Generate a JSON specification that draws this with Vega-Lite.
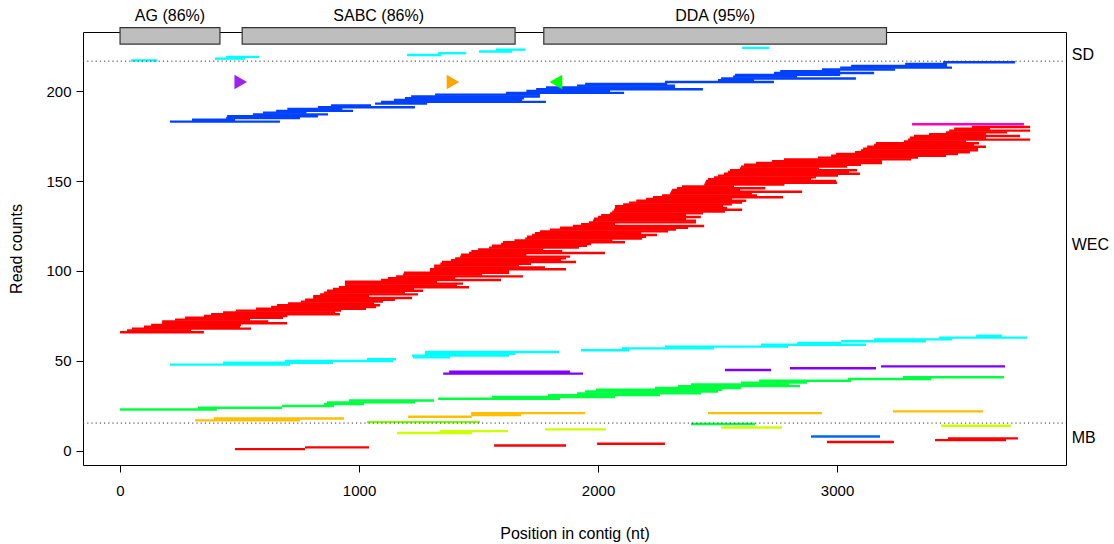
{
  "width": 983,
  "height": 433,
  "autosize": "none",
  "padding": {"left": 83, "top": 32, "right": 48, "bottom": 79},
  "config": {
    "view": {"stroke": "black", "strokeWidth": 1},
    "font": "Liberation Sans",
    "axis": {"grid": false, "domain": false, "tickColor": "black", "tickSize": 7, "labelColor": "black", "labelFontSize": 15, "titleColor": "black", "titleFontSize": 16, "titleFontWeight": "normal"}
  },
  "datasets": {
    "reads": [
      {"s":0,"e":351,"y":66,"c":"r"},{"s":29,"e":297,"y":67,"c":"r"},{"s":50,"e":548,"y":68,"c":"r"},{"s":100,"e":502,"y":69,"c":"r"},{"s":130,"e":506,"y":70,"c":"r"},{"s":176,"e":699,"y":71,"c":"r"},{"s":176,"e":620,"y":72,"c":"r"},{"s":230,"e":544,"y":73,"c":"r"},{"s":272,"e":682,"y":74,"c":"r"},{"s":351,"e":700,"y":75,"c":"r"},
      {"s":381,"e":920,"y":76,"c":"r"},{"s":431,"e":900,"y":77,"c":"r"},{"s":485,"e":925,"y":78,"c":"r"},{"s":569,"e":1029,"y":79,"c":"r"},{"s":632,"e":1071,"y":80,"c":"r"},{"s":657,"e":1088,"y":81,"c":"r"},{"s":703,"e":1063,"y":82,"c":"r"},{"s":757,"e":1100,"y":83,"c":"r"},{"s":774,"e":1150,"y":84,"c":"r"},{"s":808,"e":1222,"y":85,"c":"r"},
      {"s":808,"e":1042,"y":86,"c":"r"},{"s":837,"e":1247,"y":87,"c":"r"},{"s":853,"e":1192,"y":88,"c":"r"},{"s":866,"e":1268,"y":89,"c":"r"},{"s":891,"e":1230,"y":90,"c":"r"},{"s":916,"e":1460,"y":91,"c":"r"},{"s":941,"e":1410,"y":92,"c":"r"},{"s":941,"e":1435,"y":93,"c":"r"},{"s":941,"e":1326,"y":94,"c":"r"},{"s":1092,"e":1594,"y":95,"c":"r"},
      {"s":1121,"e":1402,"y":96,"c":"r"},{"s":1155,"e":1686,"y":97,"c":"r"},{"s":1184,"e":1515,"y":98,"c":"r"},{"s":1188,"e":1628,"y":99,"c":"r"},{"s":1297,"e":1628,"y":100,"c":"r"},{"s":1297,"e":1866,"y":101,"c":"r"},{"s":1314,"e":1778,"y":102,"c":"r"},{"s":1314,"e":1669,"y":103,"c":"r"},{"s":1340,"e":1720,"y":104,"c":"r"},{"s":1347,"e":1908,"y":105,"c":"r"},
      {"s":1385,"e":1845,"y":106,"c":"r"},{"s":1402,"e":1866,"y":107,"c":"r"},{"s":1423,"e":1883,"y":108,"c":"r"},{"s":1427,"e":1700,"y":109,"c":"r"},{"s":1460,"e":2029,"y":110,"c":"r"},{"s":1470,"e":1850,"y":111,"c":"r"},{"s":1498,"e":1770,"y":112,"c":"r"},{"s":1544,"e":1920,"y":113,"c":"r"},{"s":1556,"e":1954,"y":114,"c":"r"},{"s":1594,"e":1971,"y":115,"c":"r"},
      {"s":1602,"e":2113,"y":116,"c":"r"},{"s":1650,"e":2060,"y":117,"c":"r"},{"s":1695,"e":2184,"y":118,"c":"r"},{"s":1703,"e":2201,"y":119,"c":"r"},{"s":1724,"e":2247,"y":120,"c":"r"},{"s":1736,"e":2180,"y":121,"c":"r"},{"s":1757,"e":2293,"y":122,"c":"r"},{"s":1799,"e":2326,"y":123,"c":"r"},{"s":1841,"e":2377,"y":124,"c":"r"},{"s":1895,"e":2444,"y":125,"c":"r"},
      {"s":1929,"e":2071,"y":126,"c":"r"},{"s":1962,"e":2410,"y":127,"c":"r"},{"s":1979,"e":2410,"y":128,"c":"r"},{"s":1983,"e":2368,"y":129,"c":"r"},{"s":2000,"e":2430,"y":130,"c":"r"},{"s":2013,"e":2368,"y":131,"c":"r"},{"s":2050,"e":2439,"y":132,"c":"r"},{"s":2059,"e":2531,"y":133,"c":"r"},{"s":2067,"e":2603,"y":134,"c":"r"},{"s":2071,"e":2540,"y":135,"c":"r"},
      {"s":2071,"e":2523,"y":136,"c":"r"},{"s":2105,"e":2560,"y":137,"c":"r"},{"s":2130,"e":2603,"y":138,"c":"r"},{"s":2160,"e":2620,"y":139,"c":"r"},{"s":2201,"e":2560,"y":140,"c":"r"},{"s":2230,"e":2774,"y":141,"c":"r"},{"s":2268,"e":2665,"y":142,"c":"r"},{"s":2301,"e":2644,"y":143,"c":"r"},{"s":2305,"e":2854,"y":144,"c":"r"},{"s":2310,"e":2594,"y":145,"c":"r"},
      {"s":2330,"e":2700,"y":146,"c":"r"},{"s":2351,"e":2569,"y":147,"c":"r"},{"s":2444,"e":2780,"y":148,"c":"r"},{"s":2448,"e":3000,"y":149,"c":"r"},{"s":2452,"e":2996,"y":150,"c":"r"},{"s":2460,"e":2891,"y":151,"c":"r"},{"s":2485,"e":2912,"y":152,"c":"r"},{"s":2502,"e":3004,"y":153,"c":"r"},{"s":2527,"e":3096,"y":154,"c":"r"},{"s":2544,"e":3050,"y":155,"c":"r"},
      {"s":2552,"e":3084,"y":156,"c":"r"},{"s":2594,"e":2925,"y":157,"c":"r"},{"s":2598,"e":3042,"y":158,"c":"r"},{"s":2611,"e":3100,"y":159,"c":"r"},{"s":2661,"e":3188,"y":160,"c":"r"},{"s":2728,"e":3188,"y":161,"c":"r"},{"s":2778,"e":3310,"y":162,"c":"r"},{"s":2920,"e":3339,"y":163,"c":"r"},{"s":2975,"e":3456,"y":164,"c":"r"},{"s":2996,"e":3506,"y":165,"c":"r"},
      {"s":3075,"e":3556,"y":166,"c":"r"},{"s":3100,"e":3590,"y":167,"c":"r"},{"s":3109,"e":3590,"y":168,"c":"r"},{"s":3126,"e":3623,"y":169,"c":"r"},{"s":3155,"e":3573,"y":170,"c":"r"},{"s":3163,"e":3594,"y":171,"c":"r"},{"s":3280,"e":3540,"y":172,"c":"r"},{"s":3297,"e":3808,"y":173,"c":"r"},{"s":3305,"e":3623,"y":174,"c":"r"},{"s":3322,"e":3766,"y":175,"c":"r"},
      {"s":3385,"e":3623,"y":176,"c":"r"},{"s":3456,"e":3711,"y":177,"c":"r"},{"s":3469,"e":3808,"y":178,"c":"r"},{"s":3490,"e":3640,"y":179,"c":"r"},{"s":3565,"e":3808,"y":180,"c":"r"},
      {"s":3314,"e":3782,"y":181.5,"c":"m"},
      {"s":209,"e":669,"y":183,"c":"b"},{"s":301,"e":481,"y":184,"c":"b"},{"s":444,"e":753,"y":185,"c":"b"},{"s":448,"e":828,"y":186,"c":"b"},{"s":556,"e":870,"y":187,"c":"b"},{"s":598,"e":780,"y":188,"c":"b"},{"s":653,"e":975,"y":189,"c":"b"},{"s":700,"e":930,"y":190,"c":"b"},{"s":828,"e":1234,"y":191,"c":"b"},{"s":883,"e":1050,"y":192,"c":"b"},
      {"s":1067,"e":1285,"y":193,"c":"b"},{"s":1092,"e":1782,"y":194,"c":"b"},{"s":1146,"e":1682,"y":195,"c":"b"},{"s":1192,"e":1690,"y":196,"c":"b"},{"s":1218,"e":1757,"y":197,"c":"b"},{"s":1318,"e":1757,"y":198,"c":"b"},{"s":1615,"e":2109,"y":199,"c":"b"},{"s":1700,"e":2050,"y":200,"c":"b"},{"s":1741,"e":2439,"y":201,"c":"b"},{"s":1782,"e":2322,"y":202,"c":"b"},
      {"s":1912,"e":2322,"y":203,"c":"b"},{"s":1946,"e":2289,"y":204,"c":"b"},{"s":2280,"e":2736,"y":205,"c":"b"},{"s":2502,"e":2653,"y":206,"c":"b"},{"s":2515,"e":3079,"y":207,"c":"b"},{"s":2565,"e":2833,"y":208,"c":"b"},{"s":2573,"e":3013,"y":209,"c":"b"},{"s":2736,"e":3155,"y":210,"c":"b"},{"s":2762,"e":3013,"y":211,"c":"b"},{"s":2937,"e":3243,"y":212,"c":"b"},
      {"s":3013,"e":3481,"y":213,"c":"b"},{"s":3059,"e":3460,"y":214,"c":"b"},{"s":3285,"e":3460,"y":215,"c":"b"},{"s":3444,"e":3745,"y":216,"c":"b"},
      {"s":46,"e":155,"y":217,"c":"cy"},{"s":397,"e":523,"y":218,"c":"cy"},{"s":444,"e":582,"y":219,"c":"cy"},{"s":1201,"e":1343,"y":220,"c":"cy"},{"s":1331,"e":1448,"y":221,"c":"cy"},{"s":1502,"e":1640,"y":222,"c":"cy"},{"s":1573,"e":1695,"y":223,"c":"cy"},{"s":2603,"e":2715,"y":224,"c":"cy"},
      {"s":209,"e":711,"y":48,"c":"cy"},{"s":431,"e":891,"y":49,"c":"cy"},{"s":690,"e":1142,"y":50,"c":"cy"},{"s":1033,"e":1155,"y":51,"c":"cy"},{"s":1226,"e":1381,"y":52,"c":"cy"},{"s":1222,"e":1628,"y":53,"c":"cy"},{"s":1276,"e":1653,"y":54,"c":"cy"},{"s":1276,"e":1837,"y":55,"c":"cy"},{"s":1929,"e":2130,"y":56,"c":"cy"},{"s":2100,"e":2485,"y":57,"c":"cy"},
      {"s":2280,"e":2795,"y":58,"c":"cy"},{"s":2682,"e":3121,"y":59,"c":"cy"},{"s":2833,"e":3017,"y":60,"c":"cy"},{"s":3017,"e":3372,"y":61,"c":"cy"},{"s":3155,"e":3481,"y":62,"c":"cy"},{"s":3427,"e":3795,"y":63,"c":"cy"},{"s":3582,"e":3690,"y":64,"c":"cy"},
      {"s":1352,"e":1937,"y":43,"c":"p"},{"s":1377,"e":1883,"y":44,"c":"p"},{"s":2531,"e":2724,"y":45,"c":"p"},{"s":2803,"e":3163,"y":46,"c":"p"},{"s":3184,"e":3703,"y":47,"c":"p"},
      {"s":0,"e":405,"y":23,"c":"g"},{"s":326,"e":678,"y":24,"c":"g"},{"s":678,"e":895,"y":25,"c":"g"},{"s":853,"e":1021,"y":26,"c":"g"},{"s":866,"e":1234,"y":27,"c":"g"},{"s":958,"e":1314,"y":28,"c":"g"},{"s":1331,"e":1841,"y":29,"c":"g"},{"s":1556,"e":2071,"y":30,"c":"g"},{"s":1791,"e":2259,"y":31,"c":"g"},{"s":1912,"e":2431,"y":32,"c":"g"},
      {"s":1946,"e":2502,"y":33,"c":"g"},{"s":1992,"e":2520,"y":34,"c":"g"},{"s":2238,"e":2598,"y":35,"c":"g"},{"s":2335,"e":2845,"y":36,"c":"g"},{"s":2389,"e":2800,"y":37,"c":"g"},{"s":2598,"e":2874,"y":38,"c":"g"},{"s":2674,"e":3059,"y":39,"c":"g"},{"s":3046,"e":3393,"y":40,"c":"g"},{"s":3276,"e":3699,"y":41,"c":"g"},
      {"s":2389,"e":2657,"y":15,"c":"g"},
      {"s":1033,"e":1506,"y":16,"c":"ch"},
      {"s":314,"e":753,"y":17,"c":"o"},{"s":393,"e":937,"y":18,"c":"o"},{"s":1205,"e":1472,"y":19,"c":"o"},{"s":1469,"e":1678,"y":20,"c":"o"},{"s":1469,"e":1946,"y":21,"c":"o"},{"s":2460,"e":2937,"y":21,"c":"o"},{"s":3234,"e":3611,"y":22,"c":"o"},
      {"s":1159,"e":1473,"y":10,"c":"l"},{"s":1339,"e":1623,"y":11,"c":"l"},{"s":1778,"e":2033,"y":12,"c":"l"},{"s":2515,"e":2770,"y":13,"c":"l"},{"s":3435,"e":3728,"y":14,"c":"l"},
      {"s":481,"e":774,"y":1,"c":"r"},{"s":774,"e":1042,"y":2,"c":"r"},{"s":1565,"e":1866,"y":3,"c":"r"},{"s":1996,"e":2280,"y":4,"c":"r"},{"s":2958,"e":3238,"y":5,"c":"r"},{"s":3410,"e":3707,"y":6,"c":"r"},{"s":3464,"e":3757,"y":7,"c":"r"},
      {"s":2891,"e":3180,"y":8,"c":"b2"}
    ]
  },
  "encoding": {
    "x": {"field": "s", "type": "quantitative", "title": "Position in contig (nt)",
      "scale": {"domain": [-155, 3958], "nice": false, "zero": false},
      "axis": {"values": [0, 1000, 2000, 3000], "format": "d", "labelPadding": 11, "titlePadding": 27}},
    "y": {"field": "y", "type": "quantitative", "title": "Read counts",
      "scale": {"domain": [-7.8, 232.8], "nice": false, "zero": false},
      "axis": {"values": [0, 50, 100, 150, 200], "labelAngle": 0, "labelPadding": 5, "titlePadding": 21}}
  },
  "layer": [
    {
      "data": {"name": "reads"},
      "mark": {"type": "rule", "strokeWidth": 2.4},
      "encoding": {
        "x2": {"field": "e"},
        "color": {"field": "c", "type": "nominal", "legend": null,
          "scale": {"domain": ["r","o","l","ch","g","cy","b","b2","p","m","tp","to","tg"],
                    "range": ["#FF0000","#FFBF00","#CCFF00","#80FF00","#00FF40","#00FFFF","#0040FF","#0066FF","#8000FF","#FF00BF","#A020F0","#FFA500","#00FF00"]}}
      }
    },
    {
      "data": {"values": [{"s": -155, "e": 3958, "y": 216.6}, {"s": -155, "e": 3958, "y": 15.5}]},
      "mark": {"type": "rule", "strokeWidth": 1, "strokeDash": [1.2, 3], "color": "#333333"},
      "encoding": {"x2": {"field": "e"}}
    },
    {
      "data": {"values": [
        {"s": 0, "e": 418, "y": 226.1, "y2": 235.2},
        {"s": 511, "e": 1653, "y": 226.1, "y2": 235.2},
        {"s": 1773, "e": 3207, "y": 226.1, "y2": 235.2}
      ]},
      "mark": {"type": "rect", "fill": "#BEBEBE", "stroke": "#333333", "strokeWidth": 1.2},
      "encoding": {"x2": {"field": "e"}, "y2": {"field": "y2"}}
    },
    {
      "data": {"values": [
        {"s": 209, "y": 241.7, "lab": "AG (86%)"},
        {"s": 1082, "y": 241.7, "lab": "SABC (86%)"},
        {"s": 2490, "y": 241.7, "lab": "DDA (95%)"}
      ]},
      "mark": {"type": "text", "fontSize": 16, "color": "black", "align": "center", "baseline": "middle"},
      "encoding": {"text": {"field": "lab"}}
    },
    {
      "data": {"values": [
        {"s": 3982, "y": 220, "lab": "SD"},
        {"s": 3982, "y": 114.4, "lab": "WEC"},
        {"s": 3982, "y": 7.2, "lab": "MB"}
      ]},
      "mark": {"type": "text", "fontSize": 16, "color": "black", "align": "left", "baseline": "middle"},
      "encoding": {"text": {"field": "lab"}}
    },
    {
      "data": {"values": [
        {"s": 505, "y": 205, "c": "tp", "sh": "R"},
        {"s": 1393, "y": 205, "c": "to", "sh": "R"},
        {"s": 1824, "y": 205, "c": "tg", "sh": "L"}
      ]},
      "mark": {"type": "point", "filled": true, "opacity": 1, "size": 210, "strokeWidth": 1.5, "strokeJoin": "round"},
      "encoding": {
        "color": {"field": "c", "type": "nominal", "legend": null,
          "scale": {"domain": ["r","o","l","ch","g","cy","b","b2","p","m","tp","to","tg"],
                    "range": ["#FF0000","#FFBF00","#CCFF00","#80FF00","#00FF40","#00FFFF","#0040FF","#0066FF","#8000FF","#FF00BF","#A020F0","#FFA500","#00FF00"]}},
        "shape": {"field": "sh", "type": "nominal", "legend": null,
          "scale": {"domain": ["R", "L"], "range": ["triangle-right", "triangle-left"]}}
      }
    }
  ]
}
